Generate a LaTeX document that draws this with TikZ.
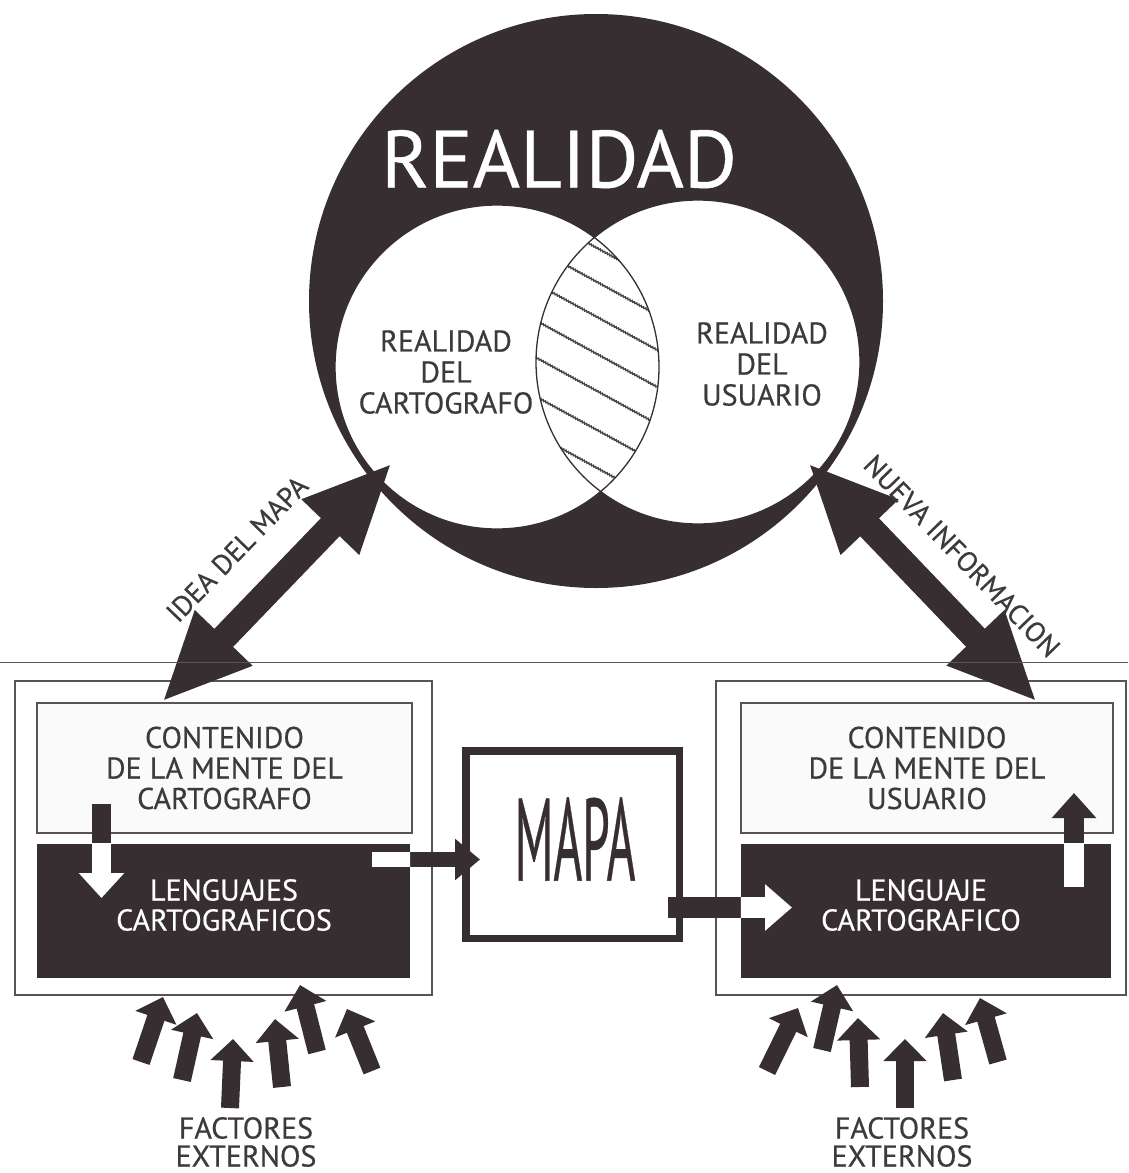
\documentclass[tikz,border=0pt]{standalone}
\usepackage{fontspec}
\setmainfont{PT Sans}[FakeBold=0.5]
\usetikzlibrary{arrows.meta,decorations.pathmorphing}
\definecolor{ink}{RGB}{54,46,49}
\definecolor{textgray}{RGB}{62,58,60}
\definecolor{paper}{RGB}{250,250,250}
\definecolor{rulegray}{RGB}{88,84,86}
\begin{document}
\begin{tikzpicture}[x=1pt,y=-1pt]
\tikzstyle{realm} = [circle,fill=ink,inner sep=0,minimum size=574pt];
\tikzstyle{subrealm} = [circle,fill=white,inner sep=0,minimum size=324pt];
\tikzstyle{hatchline} = [ink!90,line width=1.4,decorate,decoration={zigzag,amplitude=0.7pt,segment length=2.6pt}];
\tikzstyle{bigword} = [font=\fontsize{81}{81}\selectfont,text=white];
\tikzstyle{circword} = [font=\fontsize{30}{31}\selectfont,text=textgray,align=center];
\tikzstyle{outerbox} = [draw=rulegray,line width=2,inner sep=0];
\tikzstyle{mindbox} = [draw=rulegray,line width=2,fill=paper,inner sep=0,align=center,font=\fontsize{30}{30.5}\selectfont,text=textgray];
\tikzstyle{langbox} = [fill=ink,inner sep=0];
\tikzstyle{langword} = [font=\fontsize{30}{30}\selectfont,text=white,align=center];
\tikzstyle{mapbox} = [draw=ink,line width=7.5,fill=white,inner sep=0,minimum width=213.5pt,minimum height=187.5pt];
\tikzstyle{mapword} = [font=\fontsize{117}{117}\selectfont,text=ink];
\tikzstyle{tag} = [font=\fontsize{28}{28}\selectfont,text=textgray];
\tikzstyle{plainword} = [font=\fontsize{30}{28}\selectfont,text=textgray,align=center];
\tikzstyle{duplex} = [ink,line width=26,{Triangle[length=89pt,width=73pt]}-{Triangle[length=89pt,width=73pt]}];
\tikzstyle{feedarr} = [ink,line width=15,-{Triangle[length=25pt,width=40pt]}];
\tikzstyle{givearr} = [ink,line width=21,-{Triangle[length=27pt,width=45pt]}];
\tikzstyle{downarr} = [ink,line width=19,-{Triangle[length=25pt,width=44pt]}];
\tikzstyle{uparr} = [ink,line width=20,-{Triangle[length=25pt,width=43pt]}];
\tikzstyle{factorarr} = [ink,line width=18,-{Triangle[length=22pt,width=42pt]}];
\fill[white] (0,0) rectangle (1128,1173);
\useasboundingbox (0,0) rectangle (1128,1173);
\node [realm] (v1) at (596,301) {};
\node [subrealm] (v2) at (497,367) {};
\node [subrealm] (v3) at (698,362) {};
\begin{scope}
\clip (v2.center) circle (162);
\clip (v3.center) circle (162);
\foreach \c in {228,262,297,334,371,410,448,486}
  \draw [hatchline] (515,{\c-25}) -- (690,{\c+71});
\end{scope}
\draw [ink,line width=1.3] (v2.center) circle (162) (v3.center) circle (162);
\node [bigword] (v4) at (559,159) {REALIDAD};
\node [circword] (v5) at (446,372) {REALIDAD\\DEL\\CARTOGRAFO};
\node [circword] (v6) at (762,364) {REALIDAD\\DEL\\USUARIO};

\node [outerbox,minimum width=417pt,minimum height=314pt] (v7) at (223.5,838) {};
\node [mindbox,minimum width=375pt,minimum height=130pt] (v8) at (224.5,768) {CONTENIDO\\DE LA MENTE DEL\\CARTOGRAFO};
\node [langbox,minimum width=373pt,minimum height=134pt] (v9) at (223.5,911) {};
\node [langword] (v10) at (224,905) {LENGUAJES\\CARTOGRAFICOS};
\node [outerbox,minimum width=410pt,minimum height=314pt] (v11) at (921,838) {};
\node [mindbox,minimum width=372pt,minimum height=130pt] (v12) at (927,768) {CONTENIDO\\DE LA MENTE DEL\\USUARIO};
\node [langbox,minimum width=370pt,minimum height=134pt] (v13) at (926,911) {};
\node [langword] (v14) at (921,905) {LENGUAJE\\CARTOGRAFICO};
\node [mapbox] (v15) at (572.5,844.5) {};
\node [mapword] (v16) at (575,839) {\scalebox{0.42}[1]{MAPA}};

\coordinate (p1) at (162,702);
\coordinate (p2) at (392,463);
\coordinate (p3) at (808,463);
\coordinate (p4) at (1037,702);
\draw [duplex] (p1) -- (p2);
\draw [duplex] (p4) -- (p3);

\coordinate (d1) at (101.5,804);
\coordinate (d2) at (101.5,898);
\coordinate (m1) at (372,859.5);
\coordinate (m2) at (480,859.5);
\coordinate (m3) at (668,907.5);
\coordinate (m4) at (792,907.5);
\coordinate (u1) at (1074,887);
\coordinate (u2) at (1074,793);
\draw [downarr] (d1) -- (d2);
\draw [feedarr] (m1) -- (m2);
\draw [givearr] (m3) -- (m4);
\draw [uparr] (u1) -- (u2);
\begin{scope}
\clip (v9.south west) rectangle (v9.north east);
\draw [downarr,white] (d1) -- (d2);
\draw [feedarr,white] (m1) -- (m2);
\end{scope}
\begin{scope}
\clip (v13.south west) rectangle (v13.north east);
\draw [givearr,white] (m3) -- (m4);
\draw [uparr,white] (u1) -- (u2);
\end{scope}

\foreach \a/\b/\c/\d [count=\i] in {141/1062/163/997,182/1080/197/1013,230/1108/233/1039,282/1087/275/1019,317/1052/300/985,372/1071/347/1009,767/1071/798/1008,822/1050/837/985,860/1087/858/1018,905/1108/905/1039,953/1080/943/1013,998/1062/980/998}
{
  \coordinate (fa\i) at (\a,\b);
  \coordinate (fb\i) at (\c,\d);
  \draw [factorarr] (fa\i) -- (fb\i);
}
\draw [rulegray,line width=1] (0,662) -- (1128,662);

\node [tag,rotate=46] (v17) at (237,549) {IDEA DEL MAPA};
\node [tag,rotate=-46] (v18) at (962,556) {NUEVA INFORMACION};
\node [plainword] (v19) at (246,1142) {FACTORES\\EXTERNOS};
\node [plainword] (v20) at (902,1142) {FACTORES\\EXTERNOS};
\end{tikzpicture}
\end{document}
